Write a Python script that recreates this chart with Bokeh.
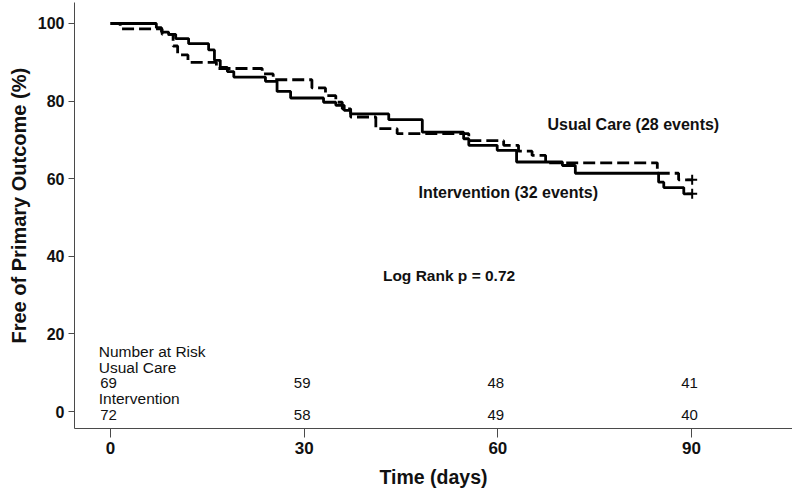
import math
from bokeh.plotting import figure
from bokeh.models import Range1d, FixedTicker, Label, ColumnDataSource, Title
from bokeh.embed import file_html
from bokeh.resources import INLINE
from bokeh.core.properties import value

# Intervention (solid line): step times (days) and survival (%) from each time on
int_times = [0, 7.1, 7.9, 9.0, 10.1, 12.1, 15.2, 16.1, 17.0, 18.1, 19.1, 24.0, 25.8, 27.9, 33.0,
             34.9, 36.2, 37.2, 43.1, 48.3, 54.7, 55.5, 59.9, 62.9, 70.0, 72.0, 84.9, 85.7, 88.8]
int_surv = [100, 98.9, 97.8, 97.2, 96.1, 94.8, 93.2, 90.5, 88.7, 87.6, 86.2, 85.1, 82.5, 80.8, 79.7,
            78.9, 77.6, 76.7, 75.2, 72.0, 70.3, 68.6, 67.3, 64.3, 63.4, 61.4, 59.1, 57.7, 56.1]
int_last_day = 90.1

# Usual Care (dashed line)
uc_times = [0, 1.5, 8.0, 9.7, 10.4, 12.0, 16.4, 23.5, 25.2, 31.2, 33.3, 34.9, 35.9, 37.2, 41.1,
            44.4, 55.5, 60.9, 63.2, 65.3, 67.4, 84.7, 88.0]
uc_surv = [100, 98.6, 97.2, 94.2, 91.9, 90.0, 88.4, 87.0, 85.5, 83.4, 81.4, 79.7, 78.0, 75.9, 72.9,
           71.6, 69.8, 68.6, 67.1, 66.0, 64.1, 61.4, 59.7]
uc_last_day = 90.1

# Number at risk table
risk_days = [0, 30, 60, 90]
risk_usual = [69, 59, 48, 41]
risk_int = [72, 58, 49, 40]

x_ticks = [0, 30, 60, 90]
y_ticks = [0, 20, 40, 60, 80, 100]

FONT = "Liberation Sans"
INK = "#111111"

p = figure(width=792, height=490, output_backend="svg", toolbar_location=None,
           x_range=Range1d(-5.576, 105.64), y_range=Range1d(-4.381, 105.41),
           min_border_left=74, min_border_right=0, min_border_top=2, min_border_bottom=62)
p.outline_line_color = None
p.xgrid.visible = False
p.ygrid.visible = False
p.background_fill_color = "white"
p.border_fill_color = "white"

for ax in (p.xaxis, p.yaxis):
    ax.axis_line_color = "#4a4a4a"
    ax.axis_line_width = 1
    ax.major_tick_line_color = "#4a4a4a"
    ax.major_tick_in = 0
    ax.minor_tick_line_color = None
    ax.major_label_text_font = FONT
    ax.major_label_text_font_style = "bold"
    ax.major_label_text_color = INK

p.xaxis.major_label_text_font_size = "17px"
p.yaxis.major_label_text_font_size = "16px"
p.xaxis.ticker = FixedTicker(ticks=x_ticks)
p.yaxis.ticker = FixedTicker(ticks=y_ticks)
p.xaxis.major_tick_out = 9
p.yaxis.major_tick_out = 6
p.xaxis.major_label_standoff = 4
p.yaxis.major_label_standoff = 4

p.xaxis.axis_label = "Time (days)"
p.xaxis.axis_label_text_font = FONT
p.xaxis.axis_label_text_font_style = "bold"
p.xaxis.axis_label_text_font_size = "19.5px"
p.xaxis.axis_label_text_color = INK
p.xaxis.axis_label_standoff = 9

ytitle = Title(text="Free of Primary Outcome (%)", align="left", offset=85, standoff=10,
               text_font=FONT, text_font_style="bold", text_font_size="20px", text_color=INK)
p.add_layout(ytitle, "left")

# survival curves
ix = int_times + [int_last_day]
iy = int_surv + [int_surv[-1]]
ux = uc_times + [uc_last_day]
uy = uc_surv + [uc_surv[-1]]
p.step(ux, uy, mode="after", line_color="black", line_width=2.8, line_dash="12 5")
p.step(ix, iy, mode="after", line_color="black", line_width=2.8)
p.scatter([int_last_day], [int_surv[-1]], marker="cross", size=10, line_width=2, color="black")
p.scatter([uc_last_day], [uc_surv[-1]], marker="cross", size=10, line_width=2, color="black")

# annotations
def lab(x, y, text, size, bold=True, align="left"):
    p.add_layout(Label(x=x, y=y, text=text, text_font=FONT, text_font_size=size,
                       text_font_style="bold" if bold else "normal", text_align=align,
                       text_baseline="middle", text_color=INK))

lab(67.7, 74.0, "Usual Care (28 events)", "16px")
lab(47.7, 56.4, "Intervention (32 events)", "16px")
lab(42.2, 35.0, "Log Rank p = 0.72", "15.5px")

# number at risk
lab(-1.82, 15.46, "Number at Risk", "15.5px", bold=False)
lab(-1.82, 11.42, "Usual Care", "15.5px", bold=False)
lab(-1.82, 3.27, "Intervention", "15.5px", bold=False)
src = ColumnDataSource(dict(x=risk_days + risk_days,
                            y=[7.40] * len(risk_days) + [-0.85] * len(risk_days),
                            t=[str(v) for v in risk_usual] + [str(v) for v in risk_int]))
p.text(x="x", y="y", text="t", source=src, text_font=value(FONT), text_font_size="15px",
       text_align="center", text_baseline="middle", x_offset=-2, text_color=INK)

open("out.html", "w").write(file_html(p, INLINE))
